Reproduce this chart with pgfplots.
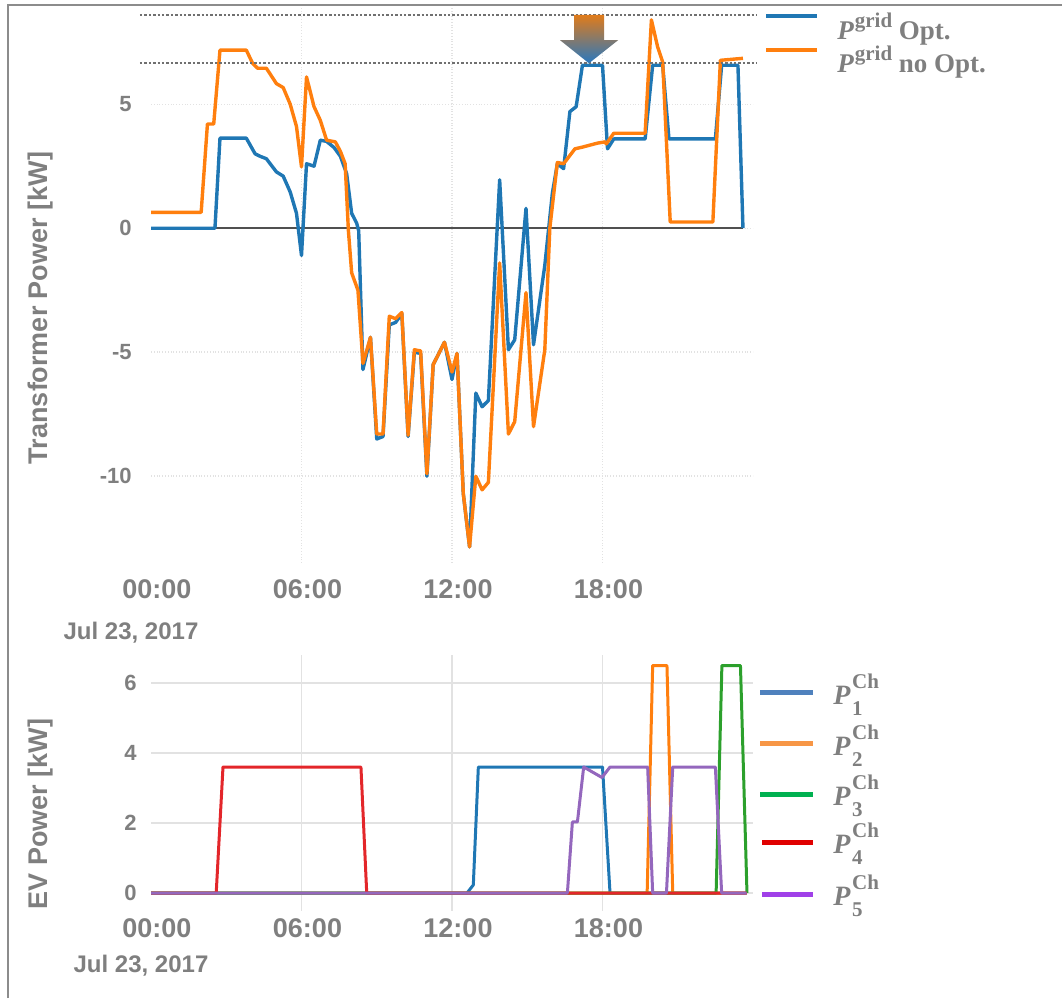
\documentclass[border=0pt]{standalone}
\usepackage{pgfplots}
\pgfplotsset{compat=1.18}
\usepackage{fontspec}
\setmainfont{Liberation Sans}
\newfontfamily\legfont{Liberation Serif}
\definecolor{txtgray}{HTML}{7F7F7F}
\definecolor{framegray}{HTML}{8C8C8C}
\definecolor{gridgray}{HTML}{E2E2E2}
\definecolor{zerogray}{HTML}{505050}
\definecolor{refgray}{HTML}{707070}
\definecolor{cblue}{HTML}{1F77B4}
\definecolor{corange}{HTML}{FF7F0E}
\definecolor{cgreen}{HTML}{2CA02C}
\definecolor{cred}{HTML}{E3262A}
\definecolor{cpurple}{HTML}{9467BD}
\definecolor{lblue}{HTML}{4F81BD}
\definecolor{lorange}{HTML}{F79646}
\definecolor{lgreen}{HTML}{00B050}
\definecolor{lred}{HTML}{E00000}
\definecolor{lpurple}{HTML}{A040E8}
\definecolor{arrorange}{HTML}{E07B1A}
\definecolor{arrgray}{HTML}{B4B8C0}
\definecolor{arrblue}{HTML}{2878C0}
\newcommand\Pgrid{{\bfseries\itshape P}\kern0.5pt\raisebox{0.45em}{\fontsize{10.5}{10}\selectfont\bfseries grid}}
\newcommand\Pch[1]{{\bfseries\itshape P}\kern0.8pt\rlap{\raisebox{0.55em}{\fontsize{10.5}{10}\selectfont\bfseries Ch}}\raisebox{-0.4em}{\fontsize{10.5}{10}\selectfont\bfseries #1}}
\begin{document}
\begin{tikzpicture}
\path[use as bounding box] (0,0) rectangle (531pt,499pt);
% ---------------- top axis ----------------
\begin{axis}[at={(75.5pt,217.5pt)}, anchor=south west, scale only axis,
  width=301pt, height=279pt,
  xmin=0, xmax=24, ymin=-13.5, ymax=9,
  axis line style={draw=none}, major tick length=0pt,
  xtick={6,12,18}, xticklabels={06:00,12:00,18:00},
  extra x ticks={0}, extra x tick labels={00:00}, extra x tick style={grid=none},
  ytick={-10,-5,0,5}, yticklabels={-10,-5,0,5},
  grid=major, grid style={gridgray, densely dotted, line width=0.7pt},
  xticklabel style={font=\fontsize{13.5}{15}\selectfont\bfseries, text=txtgray, anchor=north, inner sep=0pt, yshift=-8pt, xshift=3pt},
  yticklabel style={font=\fontsize{11}{12}\selectfont\bfseries, text=txtgray, anchor=east, inner sep=0pt, xshift=-9.5pt},
  clip=false, line join=round]
\addplot[zerogray, line width=1pt] coordinates {(0,0) (23.6,0)};
\addplot[cblue, line width=1.7pt] coordinates {
(0,0) (2.55,0) (2.75,3.63) (3.8,3.63) (4.15,3.0) (4.35,2.9) (4.6,2.8) (5.0,2.27) (5.27,2.1) (5.55,1.46) (5.8,0.6) (6.0,-1.1) (6.2,2.6) (6.5,2.5) (6.75,3.55) (7.0,3.5) (7.3,3.25) (7.55,2.9) (7.8,2.2) (8.0,0.6) (8.2,0.2) (8.28,-0.1) (8.45,-5.7) (8.75,-4.4) (9.0,-8.5) (9.25,-8.4) (9.5,-3.9) (9.75,-3.8) (10.0,-3.45) (10.25,-8.4) (10.5,-5.0) (10.75,-5.05) (11.0,-10.0) (11.25,-5.5) (11.7,-4.6) (12.0,-6.1) (12.2,-5.05) (12.45,-10.7) (12.7,-12.85) (12.95,-6.65) (13.2,-7.2) (13.45,-6.95) (13.9,1.95) (14.25,-4.9) (14.5,-4.5) (14.95,0.8) (15.25,-4.7) (15.7,-1.5) (16.0,1.4) (16.2,2.6) (16.45,2.4) (16.7,4.7) (16.95,4.9) (17.2,6.57) (18.0,6.57) (18.2,3.2) (18.45,3.6) (19.7,3.6) (20.0,6.57) (20.4,6.57) (20.65,3.6) (22.5,3.6) (22.75,6.57) (23.4,6.57) (23.6,0)};
\addplot[corange, line width=1.7pt] coordinates {
(0,0.64) (2.0,0.64) (2.25,4.2) (2.5,4.2) (2.75,7.18) (3.8,7.18) (4.05,6.65) (4.25,6.45) (4.6,6.45) (5.0,5.83) (5.27,5.67) (5.55,5.0) (5.8,4.1) (6.0,2.47) (6.2,6.1) (6.5,4.9) (6.75,4.35) (7.0,3.55) (7.35,3.48) (7.55,3.1) (7.74,2.6) (7.87,-0.1) (8.0,-1.8) (8.25,-2.5) (8.45,-5.45) (8.75,-4.4) (9.0,-8.3) (9.25,-8.3) (9.5,-3.55) (9.75,-3.65) (10.0,-3.4) (10.25,-8.35) (10.5,-4.9) (10.75,-4.95) (11.0,-9.9) (11.25,-5.5) (11.7,-4.6) (12.0,-5.8) (12.2,-5.05) (12.45,-10.7) (12.7,-12.85) (12.95,-10.0) (13.2,-10.55) (13.45,-10.25) (13.9,-1.4) (14.25,-8.3) (14.5,-7.8) (14.95,-2.6) (15.25,-8.0) (15.7,-4.9) (15.9,0) (16.2,2.65) (16.45,2.6) (16.9,3.2) (17.2,3.27) (17.8,3.43) (18.1,3.48) (18.15,3.4) (18.45,3.83) (19.7,3.83) (19.95,8.4) (20.2,7.3) (20.4,6.7) (20.7,0.25) (22.4,0.25) (22.7,6.77) (23.6,6.85)};
\draw[refgray, densely dotted, line width=1.2pt] (axis cs:-0.44,8.6) -- (axis cs:24.16,8.6);
\draw[refgray, densely dotted, line width=1.2pt] (axis cs:-0.44,6.65) -- (axis cs:24.16,6.65);
\shade[top color=arrorange, middle color=arrgray, bottom color=arrblue]
  (axis cs:16.87,8.6) -- (axis cs:18.06,8.6) -- (axis cs:18.06,7.58) -- (axis cs:18.62,7.58)
  -- (axis cs:17.46,6.65) -- (axis cs:16.31,7.58) -- (axis cs:16.87,7.58) -- cycle;
\end{axis}
% ---------------- bottom axis ----------------
\begin{axis}[at={(75.5pt,43.75pt)}, anchor=south west, scale only axis,
  width=301pt, height=127.75pt,
  xmin=0, xmax=24, ymin=-0.5, ymax=6.8,
  axis line style={draw=none}, major tick length=0pt,
  xtick={6,12,18}, xticklabels={06:00,12:00,18:00},
  extra x ticks={0}, extra x tick labels={00:00}, extra x tick style={grid=none},
  ytick={0,2,4,6}, yticklabels={0,2,4,6},
  grid=major, grid style={gridgray, line width=0.6pt},
  xticklabel style={font=\fontsize{13.5}{15}\selectfont\bfseries, text=txtgray, anchor=north, inner sep=0pt, yshift=-4pt, xshift=3pt},
  yticklabel style={font=\fontsize{11}{12}\selectfont\bfseries, text=txtgray, anchor=east, inner sep=0pt, xshift=-7pt},
  clip=false, line join=round]
\addplot[cblue, line width=1.5pt] coordinates {(0,0) (12.6,0) (12.85,0.23) (13.05,3.6) (18.0,3.6) (18.3,0) (23.75,0)};
\addplot[corange, line width=1.5pt] coordinates {(0,0) (19.78,0) (20.0,6.5) (20.57,6.5) (20.8,0) (23.75,0)};
\addplot[cgreen, line width=1.5pt] coordinates {(0,0) (22.53,0) (22.76,6.5) (23.5,6.5) (23.76,0)};
\addplot[cred, line width=1.5pt] coordinates {(0,0) (2.6,0) (2.87,3.6) (8.37,3.6) (8.6,0) (23.75,0)};
\addplot[cpurple, line width=1.5pt] coordinates {(0,0) (16.6,0) (16.8,2.03) (17.0,2.03) (17.25,3.6) (17.98,3.3) (18.3,3.6) (19.8,3.6) (20.0,0) (20.55,0) (20.8,3.6) (22.5,3.6) (22.75,0) (23.75,0)};
\end{axis}
% ---------------- annotations in pixel coordinates ----------------
\begin{scope}[shift={(0,499pt)}, x=0.5pt, y=-0.5pt]
\draw[framegray, line width=1pt] (8,998) -- (8,5) -- (1062,5);
\node[text=txtgray, font=\fontsize{13.5}{15}\selectfont\bfseries, rotate=90] at (41,308) {Transformer Power [kW]};
\node[text=txtgray, font=\fontsize{13.5}{15}\selectfont\bfseries, rotate=90] at (41,814) {EV Power [kW]};
\node[text=txtgray, font=\fontsize{12}{14}\selectfont\bfseries] at (131,633) {Jul 23, 2017};
\node[text=txtgray, font=\fontsize{12}{14}\selectfont\bfseries] at (141,966) {Jul 23, 2017};
% top legend
\draw[cblue, line width=1.6pt] (766,16) -- (817,16);
\draw[corange, line width=1.6pt] (766,50) -- (817,50);
\node[anchor=west, inner sep=0pt, text=txtgray, font=\legfont\fontsize{13.5}{15}\selectfont] at (837,29) {\Pgrid\ \textbf{Opt.}};
\node[anchor=west, inner sep=0pt, text=txtgray, font=\legfont\fontsize{13.5}{15}\selectfont] at (837,62) {\Pgrid\ \textbf{no Opt.}};
% bottom legend
\draw[lblue, line width=2.5pt] (760,693) -- (813,693);
\draw[lorange, line width=2.5pt] (760,744) -- (813,744);
\draw[lgreen, line width=2.5pt] (760,794) -- (813,794);
\draw[lred, line width=2.5pt] (762,842) -- (813,842);
\draw[lpurple, line width=2.5pt] (762,894) -- (813,894);
\foreach \i/\yy in {1/693,2/744,3/794,4/842,5/894}{
  \node[anchor=west, inner sep=0pt, text=txtgray, font=\legfont\fontsize{14}{16}\selectfont] at (833,\yy+2) {\Pch{\i}};
}
\end{scope}
\end{tikzpicture}
\end{document}
